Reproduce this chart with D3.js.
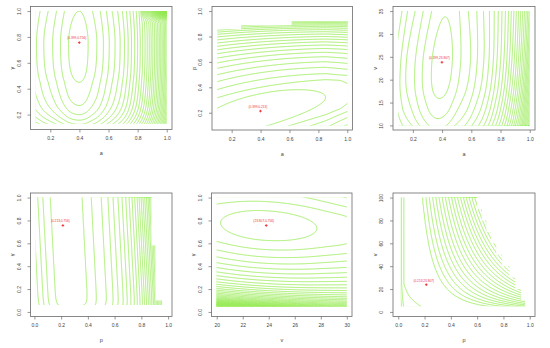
<!DOCTYPE html>
<html><head><meta charset="utf-8">
<script src="https://cdn.jsdelivr.net/npm/d3@7/dist/d3.min.js"></script>
<style>body{margin:0;background:#fff}svg{display:block}</style>
</head><body>
<script>
// ---------------- data ----------------
const mleA = 0.399, mleP = 0.213, mleG = 0.756, mleV = 23.807;

// panel 1 : a vs gamma  (contour crossings, from the maximum outward)
const p1ALeft  = [0.325, 0.27, 0.216, 0.155, 0.105];
const p1ARight = [0.46, 0.52, 0.565, 0.605, 0.645, 0.68, 0.71, 0.735, 0.758, 0.78, 0.80, 0.818, 0.835, 0.851, 0.866, 0.88, 0.893, 0.905, 0.917, 0.928, 0.939, 0.949, 0.959, 0.968, 0.977, 0.985, 0.993];
const p1GLow   = [0.45, 0.27, 0.2, 0.157, 0.125];
const p1GHigh  = [1.0];
// panel 2 : a vs p
const p2ALeft  = [-0.05];
const p2ARight = [0.85, 1.05];
const p2QLow   = [0.082, 0.03, -0.03, -0.1];
const p2QHigh  = [0.35, 0.4, 0.46, 0.515, 0.562, 0.606, 0.643, 0.676, 0.706, 0.733, 0.757, 0.78, 0.802, 0.822, 0.84, 0.855, 0.868, 0.88, 0.891, 0.901, 0.91, 0.918, 0.926];
const p2CutA   = [0.265, 0.615];
const p2CutP   = [0.856, 0.888, 0.92];
// panel 3 : a vs v
const p3ALeft  = [0.33, 0.268, 0.216, 0.155, 0.117];
const p3ARight = [0.47, 0.527, 0.594, 0.64, 0.685, 0.72, 0.75, 0.775, 0.8, 0.822, 0.842, 0.86, 0.877, 0.893, 0.908, 0.922, 0.935, 0.947, 0.958, 0.968, 0.977, 0.985, 0.993];
const p3VLow   = [15.9, 11.5, 9.3];
const p3VHigh  = [33.75];
// panel 4 : p vs gamma
const p4PLeft  = [0.118, 0.0625, 0.025];
const p4PRight = [0.357, 0.425, 0.5, 0.55, 0.588, 0.625, 0.655, 0.683, 0.708, 0.73, 0.75, 0.768, 0.783, 0.798, 0.812, 0.825, 0.838, 0.85, 0.86, 0.87, 0.88, 0.89, 0.9, 0.91, 0.92, 0.93, 0.94, 0.95];
const p4GLow   = [0.04];
const p4CutG   = [0.1, 0.58];
const p4CutP   = [0.955, 0.905, 0.875];
// panel 5 : v vs gamma
const p5VLow   = [20.3];
const p5VHigh  = [27.7];
const p5GLow   = [0.625, 0.545, 0.48, 0.425, 0.38, 0.34, 0.305, 0.275, 0.248, 0.225, 0.205, 0.187, 0.171, 0.157, 0.144, 0.132, 0.121, 0.111, 0.102, 0.094, 0.087, 0.081, 0.075, 0.07, 0.065, 0.06, 0.056, 0.052, 0.048];
const p5GHigh  = [0.885, 0.965];
// panel 6 : p vs v   (right of the ridge q = p * v^0.436 ; left wall in p, bottom-left corner in v)
const p6QCenter = 0.848;
const p6QHigh  = [1.38, 1.57, 1.76, 1.95, 2.13, 2.31, 2.49, 2.67, 2.85, 3.02, 3.19, 3.36, 3.53, 3.69, 3.85, 4.01, 4.17, 4.33, 4.49];
const p6PLeft  = [0.042, 0.025];
const p6CornerV     = [5, 14, 25];
const p6CornerLevel = [0.9, 0.43, 0];
const p6CutV   = [10, 20, 30, 40, 50, 60, 70, 80, 90];
const p6CutP   = [0.965, 0.935, 0.89, 0.845, 0.79, 0.745, 0.705, 0.67, 0.635, 0.6];

const ticks01 = [0.2, 0.4, 0.6, 0.8, 1.0];
const ticks0  = [0.0, 0.2, 0.4, 0.6, 0.8, 1.0];
const ticksV3 = [10, 15, 20, 25, 30, 35];
const ticksV5 = [20, 22, 24, 26, 28, 30];
const ticksV6 = [0, 20, 40, 60, 80, 100];

// ---------------- helpers ----------------
function levelScale(center, low, high, tf = d => d) {
  const dom = [...low.slice().reverse().map(tf), tf(center), ...high.map(tf)];
  const rng = [...low.map((d, i) => i + 1).reverse(), 0, ...high.map((d, i) => i + 1)];
  const s = d3.scaleLinear().domain(dom).range(rng);
  return v => s(tf(v));
}
const hub = L => Math.abs(L) < 1 ? L * L / 2 : Math.abs(L) - 0.5;

const La1 = levelScale(mleA, p1ALeft, p1ARight);
const Lg1 = levelScale(mleG, p1GLow, p1GHigh, g => -1 / g);
const La2 = levelScale(mleA, p2ALeft, p2ARight);
const Lq2 = levelScale(mleP, p2QLow, p2QHigh);
const La3 = levelScale(mleA, p3ALeft, p3ARight);
const Lv3 = levelScale(mleV, p3VLow, p3VHigh, v => -1 / v);
const Lp4 = levelScale(mleP, p4PLeft, p4PRight);
const Lg4 = levelScale(0.3, p4GLow, [], g => -1 / g);
const Lv5 = levelScale(mleV, p5VLow, p5VHigh);
const Lg5 = levelScale(mleG, p5GLow, p5GHigh);
const Lq6 = levelScale(p6QCenter, [], p6QHigh, q => Math.log(q));
const Lp6 = levelScale(0.2, p6PLeft, [], p => Math.log(p));
const Lc6 = d3.scaleLinear().domain(p6CornerV).range(p6CornerLevel).clamp(true);

function f6(p, v) {
  const q = Math.max(p, 1e-6) * Math.pow(v, 0.436);
  const L = q >= p6QCenter ? Lq6(q) : Math.max(0, Lp6(Math.max(p, 1e-6)) + Lc6(v));
  return hub(L);
}

const panels = [
  {box:{l:30.5,t:6.5,w:141.5,h:123}, xd:[0.1,1], yd:[0.12,1], xt:ticks01, yt:ticks01, xf:".1f", yf:".1f",
   xl:"a", yl:"γ", cx:[0.1,1], cy:[0.13,1], mx:mleA, my:mleG,
   f:(a,g)=>hub(La1(a))+hub(Lg1(g))+14000*Math.max(0,a-0.82)*Math.max(0,g-0.9)**2},
  {box:{l:212,t:6.5,w:140.5,h:123.5}, xd:[0.1,1], yd:[0.1,1], xt:ticks01, yt:ticks01, xf:".1f", yf:".1f",
   xl:"a", yl:"p", cx:[0.1,1], cy:[0.1,1], mx:mleA, my:mleP,
   f:(a,p)=>{ const s = 0.35*(a-mleA); return hub(La2(a))+hub(Lq2(p - s*(1-p))); },
   cut:{dir:"y", sc:d3.scaleThreshold().domain(p2CutA).range(p2CutP)}},
  {box:{l:393,t:6.5,w:142,h:123.5}, xd:[0.1,1], yd:[10,35], xt:ticks01, yt:ticksV3, xf:".1f", yf:"d",
   xl:"a", yl:"v", cx:[0.1,1], cy:[10,35], mx:mleA, my:mleV,
   f:(a,v)=>hub(La3(a-0.0022*(v-mleV)))+hub(Lv3(v))},
  {box:{l:30.5,t:193,w:141.5,h:123.5}, xd:[0.01,0.99], yd:[0,1], xt:ticks0, yt:ticks0, xf:".1f", yf:".1f",
   xl:"p", yl:"γ", cx:[0.01,0.99], cy:[0.06,1], mx:mleP, my:mleG,
   f:(p,g)=>hub(Lp4(p-0.045*(1-g)))+hub(Lg4(Math.min(g,0.3))),
   cut:{dir:"x", sc:d3.scaleThreshold().domain(p4CutG).range(p4CutP)}},
  {box:{l:211.5,t:193,w:140.5,h:123.5}, xd:[20,30], yd:[0,1], xt:ticksV5, yt:ticks0, xf:"d", yf:".1f",
   xl:"v", yl:"γ", cx:[20,30], cy:[0.045,1], mx:mleV, my:mleG,
   f:(v,g)=>hub(Lv5(v))+hub(Lg5(g+0.0065*(v-mleV)))},
  {box:{l:393,t:193,w:142,h:123.5}, xd:[0,1], yd:[0,100], xt:ticks0, yt:ticksV6, xf:".1f", yf:"d",
   xl:"p", yl:"v", cx:[0.02,0.99], cy:[5,100], mx:mleP, my:mleV, f:f6,
   cut:{dir:"x", sc:d3.scaleThreshold().domain(p6CutV).range(p6CutP)}}
];

const W = 550, H = 348;
const FONT = "'Liberation Sans', Arial, Helvetica, sans-serif";
const LINE = "#8fea45", AXIS = "#6a6a6a", TXT = "#444";
const svg = d3.select("body").append("svg").attr("width", W).attr("height", H);
const defs = svg.append("defs");
const thresholds = d3.range(0.5, 60, 1);
const pad = d => { const r = d[1] - d[0]; return [d[0] - 0.04 * r, d[1] + 0.04 * r]; };
const fmt3 = d3.format(".3f");

panels.forEach((P, k) => {
  const b = P.box;
  const x = d3.scaleLinear().domain(pad(P.xd)).range([b.l, b.l + b.w]);
  const y = d3.scaleLinear().domain(pad(P.yd)).range([b.t + b.h, b.t]);
  const g = svg.append("g");

  const cp = defs.append("clipPath").attr("id", "clip" + k);
  let pts;
  if (!P.cut) {
    pts = [[P.cx[0], P.cy[0]], [P.cx[1], P.cy[0]], [P.cx[1], P.cy[1]], [P.cx[0], P.cy[1]]];
  } else {
    const sc = P.cut.sc;
    const lo = P.cut.dir === "y" ? P.cx[0] : P.cy[0];
    const hi = P.cut.dir === "y" ? P.cx[1] : P.cy[1];
    const cuts = [lo, ...sc.domain().filter(t => t > lo && t < hi), hi];
    const edge = [];
    for (let i = 0; i < cuts.length - 1; i++) {
      const m = sc((cuts[i] + cuts[i + 1]) / 2);
      edge.push([cuts[i], m], [cuts[i + 1], m]);
    }
    if (P.cut.dir === "y") {
      pts = [[P.cx[0], P.cy[0]], [P.cx[1], P.cy[0]], ...edge.reverse()];
    } else {
      pts = [[P.cx[0], P.cy[0]], ...edge.map(([bb, e]) => [e, bb]), [P.cx[0], P.cy[1]]];
    }
  }
  cp.append("polygon").attr("points", pts.map(([u, v]) => [x(u), y(v)].join(",")).join(" "));

  const nx = 170, ny = 170;
  const dx = (P.cx[1] - P.cx[0]) / (nx - 1), dy = (P.cy[1] - P.cy[0]) / (ny - 1);
  const NX = nx + 2, NY = ny + 2;
  const vals = new Float64Array(NX * NY);
  for (let j = 0; j < NY; j++) {
    const yy = P.cy[1] - (j - 1) * dy;
    for (let i = 0; i < NX; i++) {
      const xx = P.cx[0] + (i - 1) * dx;
      const v = P.f(xx, yy);
      vals[j * NX + i] = isFinite(v) ? v : 1e6;
    }
  }
  const cs = d3.contours().size([NX, NY]).thresholds(thresholds)(vals);
  const proj = d3.geoTransform({
    point: function(cx, cy) {
      this.stream.point(x(P.cx[0] + (cx - 1.5) * dx), y(P.cy[1] - (cy - 1.5) * dy));
    }
  });
  const path = d3.geoPath(proj);
  g.append("g").attr("clip-path", `url(#clip${k})`)
    .selectAll("path").data(cs).join("path")
    .attr("d", path).attr("fill", "none").attr("stroke", LINE).attr("stroke-width", 0.75);

  g.append("rect").attr("x", b.l).attr("y", b.t).attr("width", b.w).attr("height", b.h)
    .attr("fill", "none").attr("stroke", AXIS).attr("stroke-width", 0.8);

  const ax = g.append("g").attr("transform", `translate(0,${b.t + b.h})`)
    .call(d3.axisBottom(x).tickValues(P.xt).tickSize(3).tickPadding(4.2).tickFormat(d3.format(P.xf)));
  const ay = g.append("g").attr("transform", `translate(${b.l},0)`)
    .call(d3.axisLeft(y).tickValues(P.yt).tickSize(3).tickPadding(2.5).tickFormat(d3.format(P.yf)));
  [ax, ay].forEach(a => {
    a.select(".domain").remove();
    a.selectAll("line").attr("stroke", AXIS).attr("stroke-width", 0.7);
    a.selectAll("text").attr("fill", TXT).style("font-family", FONT).style("font-size", "5px");
  });
  ay.selectAll(".tick text")
    .attr("x", null).attr("dy", null)
    .attr("text-anchor", "middle")
    .attr("transform", "translate(-9.8,0) rotate(-90)")
    .attr("dominant-baseline", "auto");

  g.append("text").attr("x", b.l + b.w / 2).attr("y", b.t + b.h + 25.5)
    .attr("text-anchor", "middle").attr("fill", TXT)
    .style("font-family", FONT).style("font-size", "5.5px").text(P.xl);
  g.append("text").attr("transform", `translate(${b.l - 16.5},${b.t + b.h / 2}) rotate(-90)`)
    .attr("text-anchor", "middle").attr("fill", TXT)
    .style("font-family", FONT).style("font-size", "5.5px").text(P.yl);

  const mx = x(P.mx), my = y(P.my);
  g.append("path").attr("d", `M${mx - 1.3},${my}H${mx + 1.3}M${mx},${my - 1.3}V${my + 1.3}`)
    .attr("stroke", "#ee2b2b").attr("stroke-width", 0.9);
  g.append("text").attr("x", mx - 2.5).attr("y", my - 3.2)
    .attr("text-anchor", "middle").attr("fill", "#ee3333")
    .style("font-family", FONT).style("font-size", "3.2px")
    .text(`(${fmt3(P.mx)},${fmt3(P.my)})`);
});
</script>
</body></html>
